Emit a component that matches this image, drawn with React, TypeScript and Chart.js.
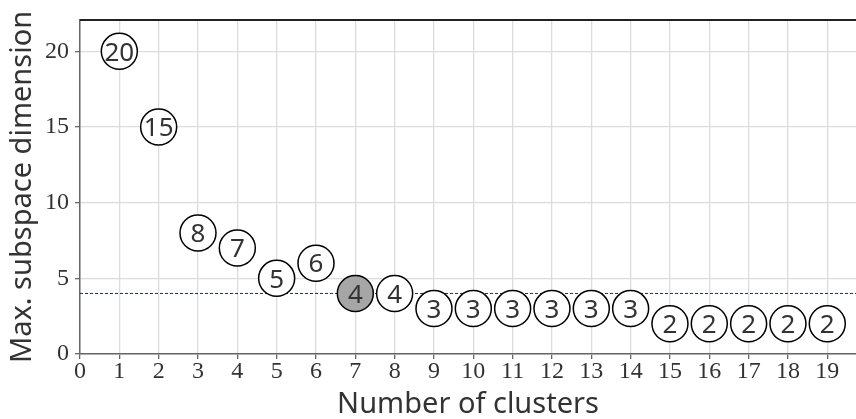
import React, { useEffect, useRef } from "react";
import { Chart, registerables } from "chart.js";

Chart.register(...registerables);

// Number of clusters and the maximum subspace dimension found for each
const clusters = [1, 2, 3, 4, 5, 6, 7, 8, 9, 10, 11, 12, 13, 14, 15, 16, 17, 18, 19];
const maxDims = [20, 15, 8, 7, 5, 6, 4, 4, 3, 3, 3, 3, 3, 3, 2, 2, 2, 2, 2];
const selectedClusters = 7;
const thresholdDim = 4;
const xTicks = [0, 1, 2, 3, 4, 5, 6, 7, 8, 9, 10, 11, 12, 13, 14, 15, 16, 17, 18, 19];
const yTicks = [0, 5, 10, 15, 20];
const xMax = 19.73;
const yMax = 22.07;

const W = 856;
const H = 419;

const tickFont = { family: "'Liberation Serif', 'Times New Roman', serif", size: 24 };
const sansFamily = "'Noto Sans', 'DejaVu Sans', sans-serif";

// Writes each value inside its circle and draws the top frame line
const circleLabels = {
  id: "circleLabels",
  afterDatasetsDraw(chart: any) {
    const ctx = chart.ctx;
    const meta = chart.getDatasetMeta(0);
    const size = 26;
    ctx.save();
    ctx.font = `${size}px ${sansFamily}`;
    ctx.fillStyle = "#333333";
    ctx.textAlign = "center";
    ctx.textBaseline = "alphabetic";
    meta.data.forEach((el: any, i: number) => {
      ctx.fillText(String(maxDims[i]), el.x, el.y + size * 0.357);
    });
    ctx.restore();

    const a = chart.chartArea;
    ctx.save();
    ctx.strokeStyle = "#222222";
    ctx.lineWidth = 2;
    ctx.beginPath();
    ctx.moveTo(a.left, a.top);
    ctx.lineTo(a.right, a.top);
    ctx.stroke();
    ctx.restore();
  },
};

export default function App() {
  const ref = useRef<HTMLCanvasElement | null>(null);

  useEffect(() => {
    document.body.style.margin = "0";
    const canvas = ref.current;
    if (!canvas) return;

    const points = clusters.map((c, i) => ({ x: c, y: maxDims[i] }));
    const fills = clusters.map((c) => (c === selectedClusters ? "#a6a6a6" : "#ffffff"));

    const chart = new Chart(canvas, {
      type: "scatter",
      data: {
        datasets: [
          {
            type: "scatter",
            data: points,
            pointRadius: 18,
            pointHoverRadius: 18,
            pointBorderWidth: 1.5,
            pointBorderColor: "#000000",
            pointBackgroundColor: fills,
            order: 0,
            clip: false,
          } as any,
          {
            type: "line",
            data: [
              { x: 0, y: thresholdDim },
              { x: xMax, y: thresholdDim },
            ],
            borderColor: "#22313f",
            borderWidth: 1,
            borderDash: [3, 2],
            pointRadius: 0,
            fill: false,
            order: 1,
          } as any,
        ],
      },
      options: {
        responsive: false,
        animation: false,
        devicePixelRatio: 1,
        layout: { autoPadding: false, padding: { top: 20, right: 0, left: 0, bottom: 0 } },
        plugins: {
          legend: { display: false },
          tooltip: { enabled: false },
        },
        scales: {
          x: {
            type: "linear",
            min: 0,
            max: xMax,
            afterBuildTicks: (s: any) => {
              s.ticks = xTicks.map((v) => ({ value: v }));
            },
            afterFit: (s: any) => {
              s.height = 65;
              s.paddingLeft = 0;
              s.paddingRight = 0;
            },
            grid: {
              color: "#dcdcdc",
              lineWidth: 1.3,
              tickLength: 5,
              tickColor: "#666666",
              tickWidth: 1.3,
            },
            border: { color: "#666666", width: 1.5 },
            ticks: {
              font: tickFont,
              color: "#333333",
              padding: -2,
              maxRotation: 0,
              autoSkip: false,
            },
            title: {
              display: true,
              text: "Number of clusters",
              font: { family: sansFamily, size: 29, lineHeight: 1 },
              color: "#333333",
              padding: 0,
            },
          },
          y: {
            type: "linear",
            min: 0,
            max: yMax,
            afterBuildTicks: (s: any) => {
              s.ticks = yTicks.map((v) => ({ value: v }));
            },
            afterFit: (s: any) => {
              s.width = 80;
              s.paddingTop = 0;
              s.paddingBottom = 0;
            },
            grid: {
              color: "#dcdcdc",
              lineWidth: 1.3,
              tickLength: 5,
              tickColor: "#666666",
              tickWidth: 1.3,
            },
            border: { color: "#666666", width: 1.5 },
            ticks: {
              font: tickFont,
              color: "#333333",
              padding: 6,
            },
            title: {
              display: true,
              text: "Max. subspace dimension",
              font: { family: sansFamily, size: 29, lineHeight: 1 },
              color: "#333333",
              padding: { top: 8, bottom: 0 },
            },
          },
        },
      },
      plugins: [circleLabels],
    });

    return () => chart.destroy();
  }, []);

  return (
    <div style={{ position: "absolute", left: 0, top: 0, width: W, height: H, background: "#ffffff" }}>
      <canvas ref={ref} width={W} height={H} style={{ display: "block" }} />
    </div>
  );
}
